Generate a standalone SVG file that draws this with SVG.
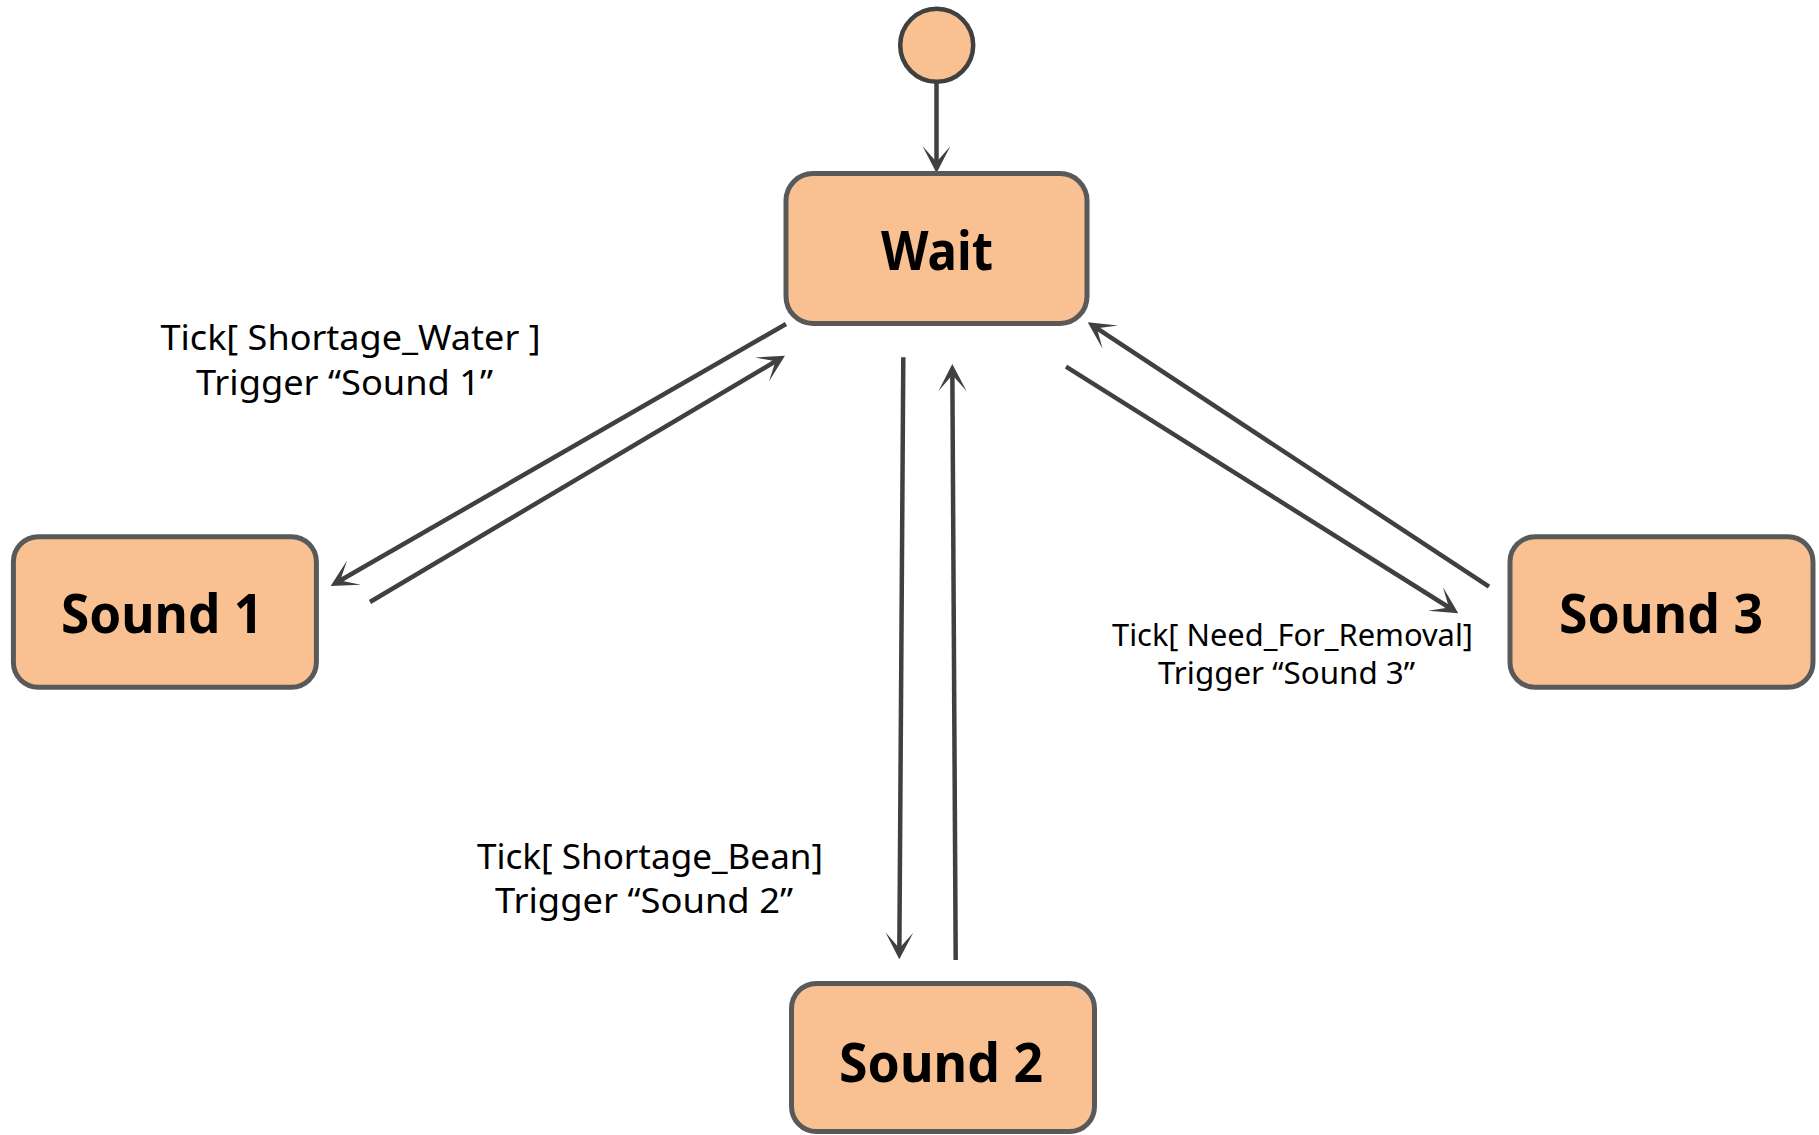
<svg xmlns="http://www.w3.org/2000/svg" width="1819" height="1135" viewBox="0 0 1819 1135">
  <style>
    .state { fill: #F9C192; stroke: #595959; stroke-width: 5; }
    .init { fill: #F9C192; stroke: #404040; stroke-width: 4.5; }
    .name { font-family: "Noto Sans", "Open Sans", sans-serif; font-weight: bold; font-size: 53px; fill: #000; text-anchor: middle; }
    .guard { font-family: "Noto Sans", "Open Sans", sans-serif; font-size: 35px; fill: #000; }
    .guard.small { font-size: 30px; }
    .edge { fill: none; stroke: #404040; stroke-width: 4.5; marker-end: url(#arrow); }
  </style>
  <defs>
    <marker id="arrow" markerUnits="userSpaceOnUse" markerWidth="27" markerHeight="28" viewBox="0 0 27 28" refX="19" refY="14" orient="auto">
      <path d="M0,0 L27,14 L0,28 L16,14 Z" fill="#404040"/>
    </marker>
  </defs>

  <rect width="1819" height="1135" fill="#FFFFFF"/>

  <!-- transitions -->
  <g id="connectors">
    <line class="edge" x1="936.5" y1="83" x2="936.5" y2="165"/>
    <line class="edge" x1="786" y1="324" x2="337.6" y2="582"/>
    <line class="edge" x1="370" y1="602" x2="778.1" y2="359.8"/>
    <line class="edge" x1="903.3" y1="357.3" x2="899.35" y2="951.3"/>
    <line class="edge" x1="955.7" y1="960" x2="952.34" y2="372"/>
    <line class="edge" x1="1066" y1="366.7" x2="1451.5" y2="609"/>
    <line class="edge" x1="1489" y1="586.7" x2="1094.4" y2="326.7"/>
  </g>

  <!-- transition guards -->
  <g id="guard-sound1">
    <text class="guard" x="160.5" y="350" textLength="380" lengthAdjust="spacingAndGlyphs">Tick[ Shortage_Water ]</text>
    <text class="guard" x="196" y="394.5" textLength="297" lengthAdjust="spacingAndGlyphs">Trigger “Sound 1”</text>
  </g>
  <g id="guard-sound2">
    <text class="guard" x="477" y="869" textLength="346" lengthAdjust="spacingAndGlyphs">Tick[ Shortage_Bean]</text>
    <text class="guard" x="495" y="913" textLength="298" lengthAdjust="spacingAndGlyphs">Trigger “Sound 2”</text>
  </g>
  <g id="guard-sound3">
    <text class="guard small" x="1112" y="646" textLength="361" lengthAdjust="spacingAndGlyphs">Tick[ Need_For_Removal]</text>
    <text class="guard small" x="1158" y="684" textLength="257" lengthAdjust="spacingAndGlyphs">Trigger “Sound 3”</text>
  </g>

  <!-- initial pseudo-state -->
  <g id="initial">
    <circle class="init" cx="936.7" cy="45.3" r="36.5"/>
  </g>

  <!-- states -->
  <g id="wait">
    <rect class="state" x="786" y="173.5" width="301" height="150" rx="27"/>
    <text class="name" x="937" y="270" textLength="112" lengthAdjust="spacingAndGlyphs">Wait</text>
  </g>
  <g id="sound1">
    <rect class="state" x="13.4" y="536.7" width="303" height="150.6" rx="25"/>
    <text class="name" x="162" y="633" textLength="202" lengthAdjust="spacingAndGlyphs">Sound 1</text>
  </g>
  <g id="sound2">
    <rect class="state" x="791.5" y="983.5" width="303" height="148" rx="25"/>
    <text class="name" x="941" y="1082" textLength="204" lengthAdjust="spacingAndGlyphs">Sound 2</text>
  </g>
  <g id="sound3">
    <rect class="state" x="1510" y="536.7" width="303" height="150.6" rx="25"/>
    <text class="name" x="1661" y="633" textLength="204" lengthAdjust="spacingAndGlyphs">Sound 3</text>
  </g>
</svg>
